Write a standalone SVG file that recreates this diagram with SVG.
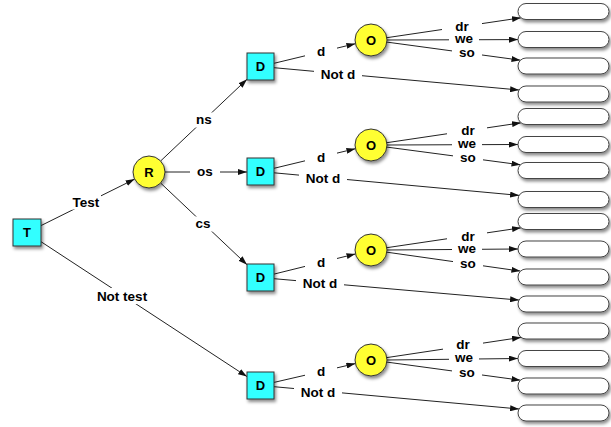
<svg xmlns="http://www.w3.org/2000/svg" width="611" height="427" viewBox="0 0 611 427">
  <defs>
    <marker id="arrow" viewBox="0 0 9 6" refX="9" refY="3" markerWidth="9" markerHeight="6" markerUnits="userSpaceOnUse" orient="auto">
      <path d="M0,0 L9,3 L0,6 z" fill="#111"/>
    </marker>
    <filter id="shadow" x="-20%" y="-30%" width="150%" height="180%">
      <feDropShadow dx="1.5" dy="2.5" stdDeviation="1.5" flood-color="#000" flood-opacity="0.45"/>
    </filter>
    <style>
      .edge { stroke: #222; stroke-width: 1; fill: none; marker-end: url(#arrow); }
      .decision { fill: #33FFFF; stroke: #333; stroke-width: 1; filter: url(#shadow); }
      .chance { fill: #FFFF33; stroke: #333; stroke-width: 1; filter: url(#shadow); }
      .outcome { fill: #FFFFFF; stroke: #444; stroke-width: 1; filter: url(#shadow); }
      .nodetext { font-family: "Liberation Sans", Arial, Helvetica, sans-serif; font-weight: bold; font-size: 13px; fill: #000; text-anchor: middle; }
      .lbl rect { fill: #FFFFFF; }
      .lbl text { font-family: "Liberation Sans", Arial, Helvetica, sans-serif; font-weight: bold; font-size: 13.5px; fill: #000; text-anchor: middle; }
    </style>
  </defs>

  <rect width="611" height="427" fill="#FFFFFF"/>

  <!-- connectors -->
  <g id="connectors">
    <!-- root decision -->
    <line class="edge" x1="41" y1="225.6" x2="134.7" y2="179.1"/>
    <line class="edge" x1="41" y1="241.7" x2="247" y2="376.6"/>
    <!-- test result branches -->
    <line class="edge" x1="160.6" y1="161" x2="247" y2="79.3"/>
    <line class="edge" x1="165" y1="172" x2="247" y2="172"/>
    <line class="edge" x1="160.6" y1="183" x2="247" y2="264.7"/>

    <!-- branch 1 -->
    <line class="edge" x1="274" y1="63.3" x2="355.4" y2="43.7"/>
    <line class="edge" x1="274" y1="67.7" x2="519.1" y2="90"/>
    <line class="edge" x1="386.8" y1="37.7" x2="521" y2="17.8"/>
    <line class="edge" x1="387" y1="40" x2="518" y2="39.6"/>
    <line class="edge" x1="386.9" y1="42.1" x2="520.5" y2="60.2"/>

    <!-- branch 2 -->
    <line class="edge" x1="274" y1="168.3" x2="355.4" y2="148.7"/>
    <line class="edge" x1="274" y1="172.8" x2="519.1" y2="195.4"/>
    <line class="edge" x1="386.8" y1="142.7" x2="521" y2="122.8"/>
    <line class="edge" x1="387" y1="145" x2="518" y2="144.5"/>
    <line class="edge" x1="386.9" y1="147.1" x2="520.5" y2="164.8"/>

    <!-- branch 3 -->
    <line class="edge" x1="274" y1="274.1" x2="355.5" y2="253.9"/>
    <line class="edge" x1="274" y1="278.7" x2="519.1" y2="300.1"/>
    <line class="edge" x1="386.8" y1="247.7" x2="521" y2="227.8"/>
    <line class="edge" x1="387" y1="250" x2="518" y2="249"/>
    <line class="edge" x1="386.9" y1="252.2" x2="520.4" y2="271.1"/>

    <!-- branch 4 -->
    <line class="edge" x1="274" y1="382.4" x2="355.4" y2="363.6"/>
    <line class="edge" x1="274" y1="386.7" x2="519.1" y2="409"/>
    <line class="edge" x1="386.8" y1="357.6" x2="521" y2="337.4"/>
    <line class="edge" x1="387" y1="360" x2="518" y2="358.5"/>
    <line class="edge" x1="386.9" y1="362.1" x2="520.5" y2="380.2"/>
  </g>

  <!-- connector labels -->
  <g id="labels" class="lbl">
    <rect x="71" y="194.5" width="30" height="15"/><text x="86" y="207">Test</text>
    <rect x="94" y="288" width="56" height="16"/><text x="122" y="301">Not test</text>
    <rect x="189" y="112.5" width="30" height="15"/><text x="204" y="123.5">ns</text>
    <rect x="190" y="164.5" width="30" height="15"/><text x="205" y="175.5">os</text>
    <rect x="188" y="216.5" width="30" height="15"/><text x="203" y="227.5">cs</text>

    <rect x="305" y="43.5" width="32" height="15"/><text x="321" y="56">d</text>
    <rect x="314" y="66.5" width="48" height="15"/><text x="338" y="79">Not d</text>
    <rect x="442" y="18.5" width="40" height="15"/><text x="462" y="31">dr</text>
    <rect x="449" y="31.5" width="30" height="15"/><text x="464" y="42.5">we</text>
    <rect x="452" y="45.5" width="30" height="15"/><text x="467" y="56.5">so</text>

    <rect x="305" y="149.5" width="32" height="15"/><text x="321" y="162">d</text>
    <rect x="299" y="170" width="48" height="15"/><text x="323" y="182.5">Not d</text>
    <rect x="447" y="122.5" width="40" height="15"/><text x="468" y="135">dr</text>
    <rect x="452" y="136.5" width="30" height="15"/><text x="467" y="147.5">we</text>
    <rect x="453" y="150.5" width="30" height="15"/><text x="468" y="161.5">so</text>

    <rect x="305" y="254.5" width="32" height="15"/><text x="321" y="267">d</text>
    <rect x="296" y="275.5" width="48" height="15"/><text x="320" y="288">Not d</text>
    <rect x="447" y="228.5" width="40" height="15"/><text x="468" y="241">dr</text>
    <rect x="452" y="241.5" width="30" height="15"/><text x="467" y="252.5">we</text>
    <rect x="453" y="256.5" width="30" height="15"/><text x="468" y="267.5">so</text>

    <rect x="305" y="363.5" width="32" height="15"/><text x="321" y="376">d</text>
    <rect x="294" y="384.5" width="48" height="15"/><text x="318" y="397">Not d</text>
    <rect x="443" y="336.5" width="40" height="15"/><text x="463" y="349">dr</text>
    <rect x="449" y="350.5" width="30" height="15"/><text x="464" y="361.5">we</text>
    <rect x="452" y="365.5" width="30" height="15"/><text x="467" y="376.5">so</text>
  </g>

  <!-- decision and chance nodes -->
  <g id="node-T"><rect class="decision" x="13" y="219" width="28" height="27"/><text class="nodetext" x="27" y="237.2">T</text></g>
  <g id="node-R"><circle class="chance" cx="149" cy="172" r="16"/><text class="nodetext" x="149" y="176.7">R</text></g>

  <g id="node-D1"><rect class="decision" x="247" y="53" width="27" height="27"/><text class="nodetext" x="260.5" y="71.2">D</text></g>
  <g id="node-O1"><circle class="chance" cx="371" cy="40" r="16"/><text class="nodetext" x="371" y="44.7">O</text></g>

  <g id="node-D2"><rect class="decision" x="247" y="158" width="27" height="27"/><text class="nodetext" x="260.5" y="176.2">D</text></g>
  <g id="node-O2"><circle class="chance" cx="371" cy="145" r="16"/><text class="nodetext" x="371" y="149.7">O</text></g>

  <g id="node-D3"><rect class="decision" x="247" y="264" width="27" height="27"/><text class="nodetext" x="260.5" y="282.2">D</text></g>
  <g id="node-O3"><circle class="chance" cx="371" cy="250" r="16"/><text class="nodetext" x="371" y="254.7">O</text></g>

  <g id="node-D4"><rect class="decision" x="247" y="372" width="27" height="27"/><text class="nodetext" x="260.5" y="390.2">D</text></g>
  <g id="node-O4"><circle class="chance" cx="371" cy="360" r="16"/><text class="nodetext" x="371" y="364.7">O</text></g>

  <!-- terminal outcomes -->
  <g id="outcome-1"><rect class="outcome" x="518" y="3.5" width="91" height="16" rx="8"/></g>
  <g id="outcome-2"><rect class="outcome" x="518" y="31.5" width="91" height="16" rx="8"/></g>
  <g id="outcome-3"><rect class="outcome" x="518" y="58" width="91" height="16" rx="8"/></g>
  <g id="outcome-4"><rect class="outcome" x="518" y="86" width="91" height="16" rx="8"/></g>
  <g id="outcome-5"><rect class="outcome" x="518" y="108.5" width="91" height="16" rx="8"/></g>
  <g id="outcome-6"><rect class="outcome" x="518" y="136.5" width="91" height="16" rx="8"/></g>
  <g id="outcome-7"><rect class="outcome" x="518" y="162.5" width="91" height="16" rx="8"/></g>
  <g id="outcome-8"><rect class="outcome" x="518" y="191.5" width="91" height="16" rx="8"/></g>
  <g id="outcome-9"><rect class="outcome" x="518" y="213.5" width="91" height="16" rx="8"/></g>
  <g id="outcome-10"><rect class="outcome" x="518" y="241" width="91" height="16" rx="8"/></g>
  <g id="outcome-11"><rect class="outcome" x="518" y="269" width="91" height="16" rx="8"/></g>
  <g id="outcome-12"><rect class="outcome" x="518" y="296" width="91" height="16" rx="8"/></g>
  <g id="outcome-13"><rect class="outcome" x="518" y="323" width="91" height="16" rx="8"/></g>
  <g id="outcome-14"><rect class="outcome" x="518" y="350.5" width="91" height="16" rx="8"/></g>
  <g id="outcome-15"><rect class="outcome" x="518" y="378" width="91" height="16" rx="8"/></g>
  <g id="outcome-16"><rect class="outcome" x="518" y="405" width="91" height="16" rx="8"/></g>
</svg>
